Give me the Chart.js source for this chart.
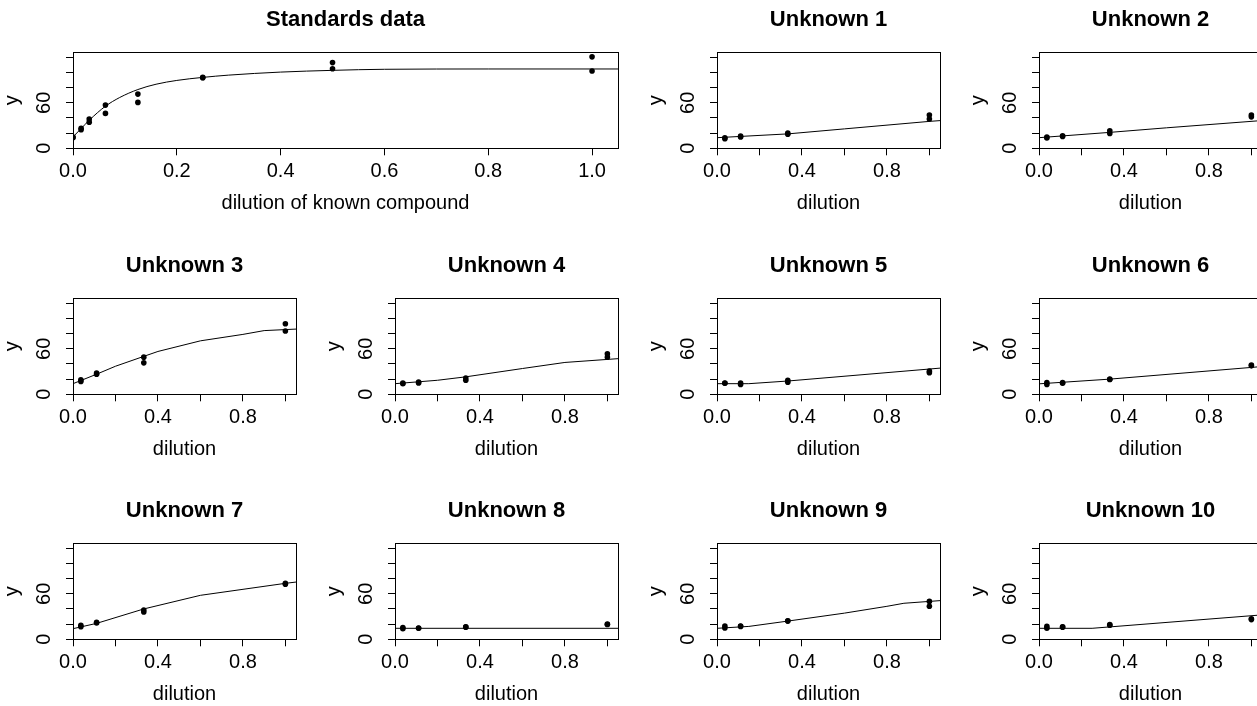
<!DOCTYPE html>
<html>
<head>
<meta charset="utf-8">
<script src="https://cdn.jsdelivr.net/npm/chart.js@4.4.0/dist/chart.umd.min.js"></script>
<style>
html, body { margin: 0; padding: 0; background: #fff; }
#fig { position: relative; width: 1257px; height: 706px; overflow: hidden; background: #fff; }
.cell { position: absolute; }
</style>
</head>
<body>
<div id="fig"></div>
<script>
// standards: dilution of known compound vs y
const stdX = [0, 0, 1/64, 1/64, 1/32, 1/32, 1/16, 1/16, 1/8, 1/8, 1/4, 1/4, 1/2, 1/2, 1, 1];
const stdY = [15, 14, 26.5, 24.5, 38.5, 34.5, 57, 46, 71.5, 60.5, 93, 93.5, 113, 105, 120.6, 102];
const stdCurveX = [0, 0.0156, 0.03125, 0.0625, 0.09, 0.125, 0.16, 0.2, 0.25, 0.3, 0.4, 0.5, 0.6, 0.8, 1.05];
const stdCurveY = [15, 26, 37, 55.5, 67, 77.5, 84.5, 89.5, 93.5, 96.5, 100.5, 102.8, 104.2, 104.6, 104.6];

// unknowns: same dilution series for all
const unkX = [1/27, 1/27, 1/9, 1/9, 1/3, 1/3, 1, 1];
const u1Y = [14, 12.5, 16, 15, 20, 18.5, 44, 38.5];
const u2Y = [15, 13.5, 16.5, 15.5, 23, 19.5, 44, 41.5];
const u3Y = [19, 17, 28, 26.5, 49, 41.5, 93, 83.5];
const u4Y = [15, 14, 16, 15, 21.5, 18.5, 53.5, 49];
const u5Y = [15, 14.5, 15, 13, 18.5, 16, 30.5, 28.5];
const u6Y = [15.5, 13, 15.5, 14.5, 20, 19.5, 38.5, 37.5];
const u7Y = [18.5, 16.5, 22.5, 21.5, 38.5, 36, 74, 72.5];
const u8Y = [15.5, 14, 15, 14.5, 16.5, 16, 20, 19.5];
const u9Y = [17.5, 15, 17.5, 17, 24.5, 24, 50, 43.5];
const u10Y = [17, 14.5, 16.5, 16, 19.5, 18.5, 27, 26];

// fitted lines
const u1CurveX = [0, 0.333, 0.6, 1.0, 1.05];
const u1CurveY = [14, 19, 25.6, 35.5, 36.5];
const u2CurveX = [0, 0.333, 0.6, 1.05];
const u2CurveY = [14, 21, 27, 36.6];
const u3CurveX = [0, 0.111, 0.2, 0.333, 0.4, 0.6, 0.8, 0.9, 1.05];
const u3CurveY = [14, 26.5, 37, 50, 56.5, 70.5, 79, 84, 86];
const u4CurveX = [0, 0.2, 0.333, 0.6, 0.8, 1.05];
const u4CurveY = [14, 18.5, 23, 34, 42, 47];
const u5CurveX = [0, 0.15, 0.333, 1.05];
const u5CurveY = [14, 14, 17.5, 34.5];
const u6CurveX = [0, 0.333, 1.05];
const u6CurveY = [13.8, 20, 36.6];
const u7CurveX = [0, 0.111, 0.333, 0.6, 1.0, 1.05];
const u7CurveY = [14, 21, 40, 58, 73.8, 75.5];
const u8CurveX = [0, 1.05];
const u8CurveY = [14.5, 14.5];
const u9CurveX = [0, 0.15, 0.333, 0.6, 0.8, 0.88, 1.05];
const u9CurveY = [14.5, 17, 24, 34.5, 43.5, 47.5, 51];
const u10CurveX = [0, 0.25, 1.05];
const u10CurveY = [14.5, 14.5, 32.2];

const xTicksStd = [0, 0.2, 0.4, 0.6, 0.8, 1.0];
const xTicksUnk = [0, 0.4, 0.8];
const yTickLabels = [0, 60];

const FONT = "'Liberation Sans', Arial, Helvetica, sans-serif";

const panels = [
    { title: 'Standards data', xLabel: 'dilution of known compound', row: 0, col: 0, span: 2, px: stdX, py: stdY, cx: stdCurveX, cy: stdCurveY, smooth: true },
    { title: 'Unknown 1', row: 0, col: 2, px: unkX, py: u1Y, cx: u1CurveX, cy: u1CurveY },
    { title: 'Unknown 2', row: 0, col: 3, px: unkX, py: u2Y, cx: u2CurveX, cy: u2CurveY },
    { title: 'Unknown 3', row: 1, col: 0, px: unkX, py: u3Y, cx: u3CurveX, cy: u3CurveY },
    { title: 'Unknown 4', row: 1, col: 1, px: unkX, py: u4Y, cx: u4CurveX, cy: u4CurveY },
    { title: 'Unknown 5', row: 1, col: 2, px: unkX, py: u5Y, cx: u5CurveX, cy: u5CurveY },
    { title: 'Unknown 6', row: 1, col: 3, px: unkX, py: u6Y, cx: u6CurveX, cy: u6CurveY },
    { title: 'Unknown 7', row: 2, col: 0, px: unkX, py: u7Y, cx: u7CurveX, cy: u7CurveY },
    { title: 'Unknown 8', row: 2, col: 1, px: unkX, py: u8Y, cx: u8CurveX, cy: u8CurveY },
    { title: 'Unknown 9', row: 2, col: 2, px: unkX, py: u9Y, cx: u9CurveX, cy: u9CurveY },
    { title: 'Unknown 10', row: 2, col: 3, px: unkX, py: u10Y, cx: u10CurveX, cy: u10CurveY }
];

const colLeft = [0, 322, 644, 966];
const rowTop = [0, 246, 491];

// box around the plot region, like R's box()
const boxPlugin = {
    id: 'rbox',
    afterDraw(chart) {
        const { ctx, chartArea: a } = chart;
        ctx.save();
        ctx.strokeStyle = '#000';
        ctx.lineWidth = 1;
        ctx.strokeRect(Math.round(a.left) + 0.5, Math.round(a.top) + 0.5, Math.round(a.right - a.left), Math.round(a.bottom - a.top));
        ctx.restore();
    }
};

function toPoints(xs, ys) {
    return xs.map((x, i) => ({ x: x, y: ys[i] }));
}

const fig = document.getElementById('fig');

panels.forEach(p => {
    const w = p.span === 2 ? 644 : 322;
    const h = 245;
    const cell = document.createElement('div');
    cell.className = 'cell';
    cell.style.left = colLeft[p.col] + 'px';
    cell.style.top = rowTop[p.row] + 'px';
    cell.style.width = w + 'px';
    cell.style.height = h + 'px';
    const canvas = document.createElement('canvas');
    canvas.width = w;
    canvas.height = h;
    cell.appendChild(canvas);
    fig.appendChild(cell);

    const shownX = p.span === 2 ? xTicksStd : xTicksUnk;

    new Chart(canvas.getContext('2d'), {
        type: 'scatter',
        data: {
            datasets: [{
                data: toPoints(p.cx, p.cy),
                showLine: true,
                borderColor: '#000',
                borderWidth: 1,
                pointRadius: 0,
                tension: 0,
                cubicInterpolationMode: p.smooth ? 'monotone' : 'default',
                clip: 0
            }, {
                data: toPoints(p.px, p.py),
                showLine: false,
                pointRadius: 2.8,
                pointBorderWidth: 0,
                pointBackgroundColor: '#000',
                clip: 0
            }]
        },
        options: {
            responsive: false,
            animation: false,
            devicePixelRatio: 1,
            events: [],
            layout: { padding: { left: 0, right: 26, top: 0, bottom: 0 } },
            plugins: {
                legend: { display: false },
                tooltip: { enabled: false },
                title: {
                    display: true,
                    fullSize: false,
                    text: p.title,
                    color: '#000',
                    font: { family: FONT, size: 22, weight: 'bold' },
                    padding: { top: 6.8, bottom: 19.1 }
                }
            },
            scales: {
                x: {
                    type: 'linear',
                    position: 'bottom',
                    min: 0,
                    max: 1.05,
                    ticks: {
                        stepSize: 0.2,
                        includeBounds: false,
                        autoSkip: false,
                        maxRotation: 0,
                        minRotation: 0,
                        padding: 4,
                        color: '#000',
                        font: { family: FONT, size: 20 },
                        callback: v => shownX.some(t => Math.abs(t - v) < 1e-6) ? v.toFixed(1) : ''
                    },
                    grid: { drawOnChartArea: false, drawTicks: true, tickLength: 7, color: '#000', lineWidth: 1 },
                    border: { display: false },
                    title: {
                        display: true,
                        text: p.xLabel || 'dilution',
                        color: '#000',
                        font: { family: FONT, size: 20 },
                        padding: { top: 0, bottom: 29.5 }
                    },
                    afterFit: s => { s.height = 96.7; }
                },
                y: {
                    type: 'linear',
                    position: 'left',
                    min: 0,
                    max: 126.6,
                    ticks: {
                        stepSize: 20,
                        includeBounds: false,
                        autoSkip: false,
                        minRotation: 90,
                        maxRotation: 90,
                        crossAlign: 'center',
                        padding: 9.9,
                        color: '#000',
                        font: { family: FONT, size: 20 },
                        callback: v => yTickLabels.includes(v) ? String(v) : ''
                    },
                    grid: { drawOnChartArea: false, drawTicks: true, tickLength: 7, color: '#000', lineWidth: 1 },
                    border: { display: false },
                    title: {
                        display: true,
                        text: 'y',
                        color: '#000',
                        font: { family: FONT, size: 20 },
                        padding: { top: 0, bottom: 0 }
                    },
                    afterFit: s => { s.width = 73; }
                }
            }
        },
        plugins: [boxPlugin]
    });
});
</script>
</body>
</html>
